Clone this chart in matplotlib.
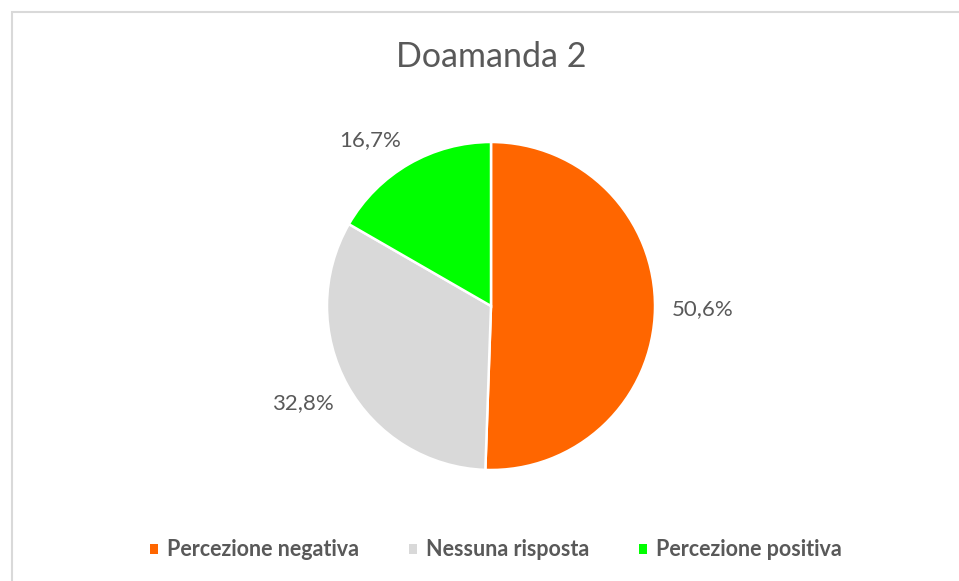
import matplotlib.pyplot as plt
from matplotlib.patches import Rectangle
import numpy as np

plt.rcParams['font.family'] = ['Lato', 'DejaVu Sans']

# dati
categorie = ['Percezione negativa', 'Nessuna risposta', 'Percezione positiva']
percentuali = [50.6, 32.8, 16.7]
colori = ['#FF6600', '#D9D9D9', '#00FF00']

TESTO = '#595959'

fig = plt.figure(figsize=(9.59, 5.81), dpi=100)

# cornice grigia del grafico (come in Excel)
fig.patches.append(Rectangle((12 / 959, -0.1), 1.2, 1 - 12 / 581 + 0.1,
                             transform=fig.transFigure, fill=False,
                             edgecolor='#D9D9D9', linewidth=1.5))

cx, cy, r = 491, 306, 164
ax = fig.add_axes([(cx - r) / 959, (581 - cy - r) / 581, 2 * r / 959, 2 * r / 581])

res = ax.pie(percentuali, colors=colori, startangle=90, counterclock=False,
             wedgeprops=dict(edgecolor='white', linewidth=1.8),
             autopct='', pctdistance=1.1)
wedges, autotexts = res[0], res[2]

# etichette "estremità esterna": il bordo del testo tocca il punto di ancoraggio
for w, t, v in zip(wedges, autotexts, percentuali):
    ang = np.deg2rad((w.theta1 + w.theta2) / 2)
    c, s = np.cos(ang), np.sin(ang)
    t.set_text(f'{v:.1f}%'.replace('.', ','))
    t.set_fontsize(16)
    t.set_color(TESTO)
    t.set_ha('center' if abs(c) < 0.3 else ('left' if c > 0 else 'right'))
    t.set_va('center' if abs(s) < 0.3 else ('bottom' if s > 0 else 'top'))

ax.set_xlim(-1, 1)
ax.set_ylim(-1, 1)
ax.set_aspect('equal')

fig.text(491 / 959, 1 - 57 / 581, 'Doamanda 2', ha='center', va='center',
         fontsize=24.5, color=TESTO)

leg = fig.legend(wedges, categorie, loc='center', bbox_to_anchor=(0.517, 1 - 550 / 581),
                 ncol=3, frameon=False, handlelength=0.37, handleheight=0.37,
                 handletextpad=0.42, columnspacing=2.3, labelcolor=TESTO,
                 prop=dict(size=15.5, weight='bold'))
for h in leg.legend_handles:
    h.set_edgecolor('none')

fig.savefig('out.png', dpi=100)
